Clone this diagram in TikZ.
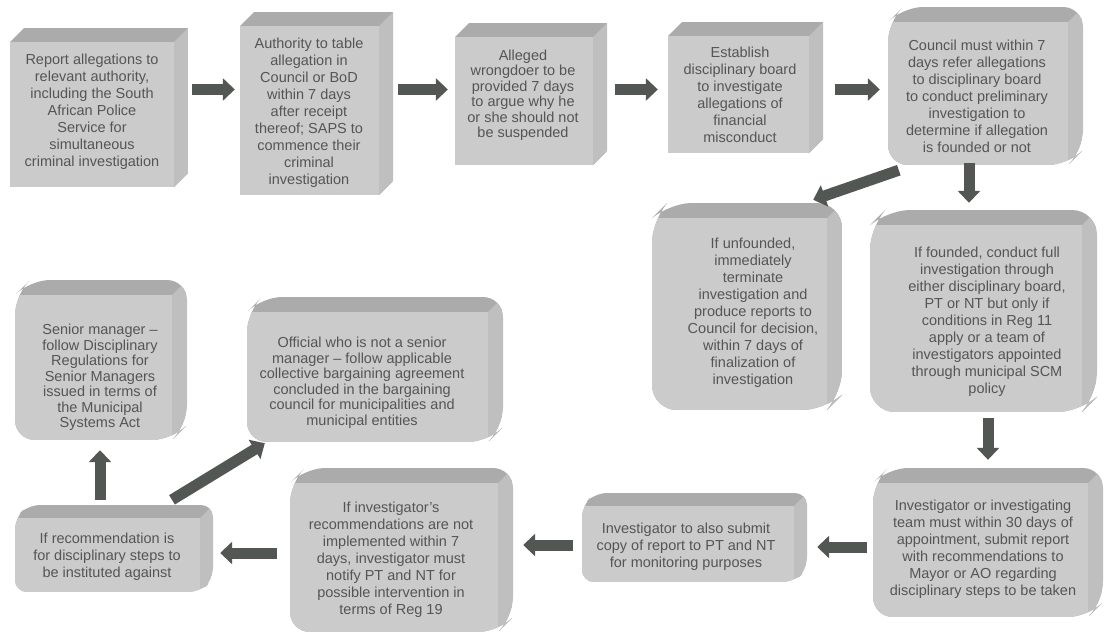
\documentclass[tikz,border=0pt]{standalone}
\usepackage{fontspec}
\setmainfont{Liberation Sans}
\usetikzlibrary{arrows.meta,calc}
\definecolor{boxfront}{HTML}{CBCBCB}
\definecolor{boxtop}{HTML}{ABABAB}
\definecolor{boxside}{HTML}{BFBFBF}
\definecolor{txtc}{HTML}{555555}
\definecolor{arrc}{HTML}{535753}
\tikzset{
  geo/.style={shape=rectangle, inner sep=0pt, draw=none},
  txt/.style={font=\fontsize{14.5}{17}\selectfont, text=txtc, align=center, inner sep=0pt},
  txtb/.style={txt, font=\fontsize{14.5}{15.5}\selectfont},
  bigarrow/.style={draw=arrc, line width=11pt, -{Triangle[length=12pt,width=22pt]}},
}
% #1 name, #2 x0, #3 y0, #4 x1, #5 y1, #6 bevel depth, #7 corner radius
\newcommand\cubebox[7]{%
  \begin{scope}
    \clip[rounded corners=#7] (#2+#6,#3) -- (#4,#3) -- (#4,#5-#6) -- (#4-#6,#5) -- (#2,#5) -- (#2,#3+#6) -- cycle;
    \fill[boxtop] (#2,#3) rectangle (#4,#5);
    \fill[boxside] (#4-#6,#3+#6) -- (#4,#3) -- (#4,#5) -- (#4-#6,#5) -- cycle;
    \fill[boxfront] (#2,#3+#6) rectangle (#4-#6,#5);
  \end{scope}
  \node[geo, minimum width={#4-#2}, minimum height={#5-#3}] (#1) at ({(#2+#4)/2},{(#3+#5)/2}) {};
}
\begin{document}
\begin{tikzpicture}[x=1pt,y=-1pt]
\useasboundingbox[fill=white] (0,0) rectangle (1106,633);
% boxes
\cubebox{b1}{10}{28}{188}{187}{14}{0pt}
\cubebox{b2}{240}{12}{393}{195}{14}{0pt}
\cubebox{b3}{455}{23}{607}{165}{14}{0pt}
\cubebox{b4}{668}{22}{823}{153}{14}{0pt}
\cubebox{b5}{888}{7}{1083}{165}{15}{20pt}
\cubebox{b6}{652}{203}{842}{410}{15}{25pt}
\cubebox{b7}{870}{210}{1097}{412}{15}{25pt}
\cubebox{b8}{873}{468}{1103}{617}{15}{20pt}
\cubebox{b9}{582}{493}{807}{582}{13}{12pt}
\cubebox{b10}{290}{468}{513}{632}{15}{20pt}
\cubebox{b11}{15}{505}{213}{592}{13}{12pt}
\cubebox{b12}{15}{280}{187}{440}{15}{20pt}
\cubebox{b13}{247}{297}{503}{442}{15}{20pt}
% texts
\node[txt] (t1) at (92,111.5) {Report allegations to\\relevant authority,\\including the South\\African Police\\Service for\\simultaneous\\criminal investigation};
\node[txt] (t2) at (309,112.5) {Authority to table\\allegation in\\Council or BoD\\within 7 days\\after receipt\\thereof; SAPS to\\commence their\\criminal\\investigation};
\node[txtb] (t3) at (523,95) {Alleged\\wrongdoer to be\\provided 7 days\\to argue why he\\or she should not\\be suspended};
\node[txt] (t4) at (740,95) {Establish\\disciplinary board\\to investigate\\allegations of\\financial\\misconduct};
\node[txt] (t5) at (977,96) {Council must within 7\\days refer allegations\\to disciplinary board\\to conduct preliminary\\investigation to\\determine if allegation\\is founded or not};
\node[txt] (t6) at (753,312.5) {If unfounded,\\immediately\\terminate\\investigation and\\produce reports to\\Council for decision,\\within 7 days of\\finalization of\\investigation};
\node[txt] (t7) at (987,322) {If founded, conduct full\\investigation through\\either disciplinary board,\\PT or NT but only if\\conditions in Reg 11\\apply or a team of\\investigators appointed\\through municipal SCM\\policy};
\node[txt] (t8) at (983,549.5) {Investigator or investigating\\team must within 30 days of\\appointment, submit report\\with recommendations to\\Mayor or AO regarding\\disciplinary steps to be taken};
\node[txt] (t9) at (686,546.5) {Investigator to also submit\\copy of report to PT and NT\\for monitoring purposes};
\node[txt] (t10) at (391,560) {If investigator's\\recommendations are not\\implemented within 7\\days, investigator must\\notify PT and NT for\\possible intervention in\\terms of Reg 19};
\node[txt] (t11) at (107,556.5) {If recommendation is\\for disciplinary steps to\\be instituted against};
\node[txtb] (t12) at (100,377.5) {Senior manager –\\follow Disciplinary\\Regulations for\\Senior Managers\\issued in terms of\\the Municipal\\Systems Act};
\node[txtb] (t13) at (362,382.5) {Official who is not a senior\\manager – follow applicable\\collective bargaining agreement\\concluded in the bargaining\\council for municipalities and\\municipal entities};
% arrow rows
\coordinate (r1) at (0,89.5);
\coordinate (r3) at (0,547);
\coordinate (r4) at (0,545);
\coordinate (r5) at (0,553);
% connectors
\draw[bigarrow, shorten <=4pt, shorten >=5pt] (b1.east |- r1) -- (b2.west |- r1);
\draw[bigarrow, shorten <=5pt, shorten >=7pt] (b2.east |- r1) -- (b3.west |- r1);
\draw[bigarrow, shorten <=8pt, shorten >=10pt] (b3.east |- r1) -- (b4.west |- r1);
\draw[bigarrow, shorten <=12pt, shorten >=8pt] (b4.east |- r1) -- (b5.west |- r1);
\draw[bigarrow] ([xshift=11pt,yshift=-5pt]b5.south west) -- ([xshift=-29pt,yshift=3pt]b6.north east);
\draw[bigarrow, shorten <=-2pt, shorten >=7pt] ([xshift=-16.5pt]b5.south) -- ([xshift=-16.5pt]b5.south |- b7.north);
\draw[bigarrow, shorten <=6pt, shorten >=8pt] ([xshift=4.5pt]b7.south) -- ([xshift=4.5pt]b7.south |- b8.north);
\draw[bigarrow, shorten <=6pt, shorten >=10pt] (b8.west |- r3) -- (b9.east |- r3);
\draw[bigarrow, shorten <=9pt, shorten >=10pt] (b9.west |- r4) -- (b10.east |- r4);
\draw[bigarrow, shorten <=13pt, shorten >=7pt] (b10.west |- r5) -- (b11.east |- r5);
\draw[bigarrow, shorten <=5pt, shorten >=10pt] ([xshift=-14pt]b11.north) -- ([xshift=-14pt]b11.north |- b12.south);
\draw[bigarrow] ([xshift=58pt,yshift=5pt]b11.north) -- ([xshift=18pt,yshift=-1pt]b13.south west);
\end{tikzpicture}
\end{document}
